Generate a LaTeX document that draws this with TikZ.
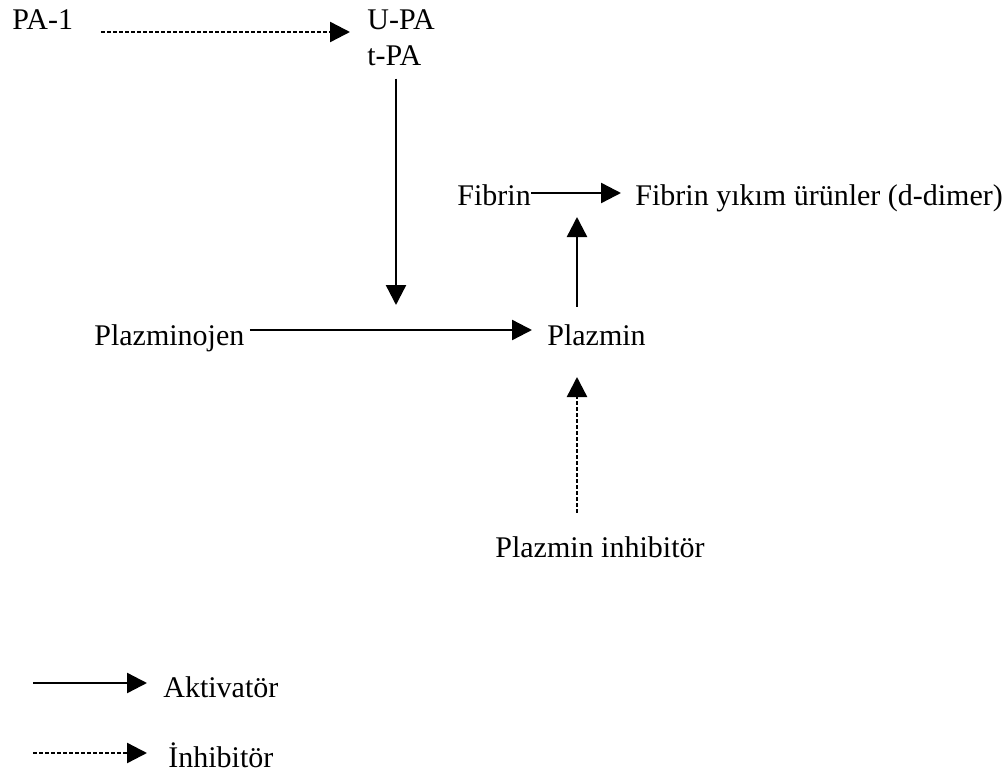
\documentclass[tikz,border=0pt]{standalone}
\usepackage{fontspec}
\setmainfont{Liberation Serif}
\usetikzlibrary{arrows.meta, positioning}
\tikzstyle{arrow} = [line width=1.2pt,-{Triangle[length=10pt,width=10pt]},draw=black]
\tikzstyle{inharrow} = [arrow,dash pattern=on 2pt off 1pt]
\tikzstyle{lbl} = [inner sep=0pt,anchor=base west,font=\fontsize{15}{18}\selectfont]

\begin{document}
\begin{tikzpicture}[x=0.5pt,y=-0.5pt]
        \useasboundingbox (0,0) rectangle (1008,776);
        \node (pa1) [lbl] at (12,29) {PA-1};
        \node (upa) [lbl] at (367,29) {U-PA};
        \node (tpa) [lbl] at (367,65) {t-PA};
        \node (fibrin) [lbl] at (457,205) {Fibrin};
        \node (fdp) [lbl] at (635,205) {Fibrin yıkım ürünler (d-dimer)};
        \node (plgn) [lbl] at (94,345) {Plazminojen};
        \node (plm) [lbl] at (547,345) {Plazmin};
        \node (inhib) [lbl] at (495,557) {Plazmin inhibitör};
        \node (akt) [lbl] at (163,697) {Aktivatör};
        \node (inh) [lbl] at (168,767) {İnhibitör};

        \coordinate (upatip) at (350,32);
        \coordinate (tpatip) at (396,305);
        \coordinate (plmleft) at (532,330);
        \coordinate (fdpleft) at (621,193);
        \coordinate (plmtip) at (577,217);
        \coordinate (inhtip) at (577,377);
        \coordinate (aktstart) at (33,683);
        \coordinate (inhstart) at (33,753);

        \draw[inharrow,shorten <=14pt] (pa1.east |- upatip) -- (upatip);
        \draw[arrow,shorten <=6.5pt] (tpa.south -| tpatip) -- (tpatip);
        \draw[arrow,shorten <=2.5pt] (plgn.east |- plmleft) -- (plmleft);
        \draw[arrow] (fibrin.east |- fdpleft) -- (fdpleft);
        \draw[arrow,shorten <=8.5pt] (plm.north -| plmtip) -- (plmtip);
        \draw[inharrow,shorten <=11.5pt] (inhib.north -| inhtip) -- (inhtip);
        \draw[arrow,shorten >=8pt] (aktstart) -- (akt.west |- aktstart);
        \draw[inharrow,shorten >=10.5pt] (inhstart) -- (inh.west |- inhstart);
    \end{tikzpicture}
\end{document}
